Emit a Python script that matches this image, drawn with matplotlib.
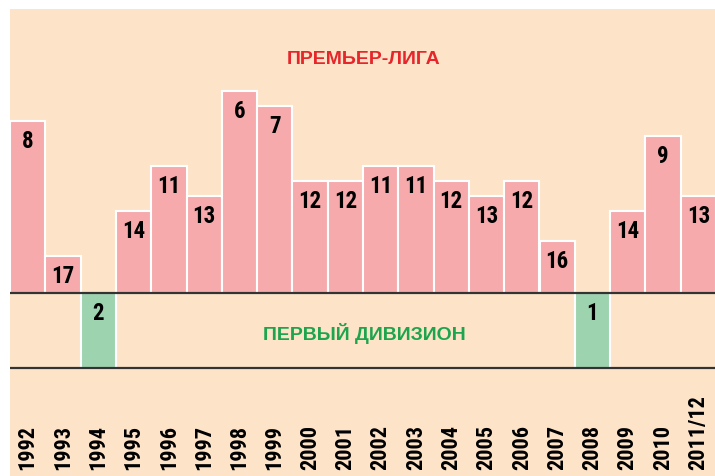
import matplotlib
matplotlib.use("Agg")
import matplotlib.pyplot as plt
from matplotlib import font_manager as fm

# ---- data ----
seasons = ["1992", "1993", "1994", "1995", "1996", "1997", "1998", "1999", "2000", "2001",
           "2002", "2003", "2004", "2005", "2006", "2007", "2008", "2009", "2010", "2011/12"]
positions = [8, 17, 2, 14, 11, 13, 6, 7, 12, 12, 11, 11, 12, 13, 12, 16, 1, 14, 9, 13]
division = ["PL", "PL", "D1", "PL", "PL", "PL", "PL", "PL", "PL", "PL",
            "PL", "PL", "PL", "PL", "PL", "PL", "D1", "PL", "PL", "PL"]
title_pl = "ПРЕМЬЕР-ЛИГА"
title_d1 = "ПЕРВЫЙ ДИВИЗИОН"

# scale: premier league bar height = TOP_REF - position ; first division bars fixed depth
TOP_REF = 19.5
D1_DEPTH = 5.0

# ---- fonts ----
names = {f.name for f in fm.fontManager.ttflist}
cond = None
for cand in ["Liberation Sans Narrow", "DejaVu Sans Condensed", "Roboto Condensed", "Open Sans Condensed"]:
    if cand in names:
        cond = cand
        break
if cond is None:
    fam = ["DejaVu Sans"]
    stretch = "condensed"
else:
    fam = [cond, "DejaVu Sans"]
    stretch = "normal"
title_fam = ["Liberation Sans", "DejaVu Sans"]

BG = "#fde4c9"
PINK = "#f6aaac"
GREEN = "#9dd3ae"
RED = "#e6262b"
DGREEN = "#1ca54c"

W, H = 715, 477
fig = plt.figure(figsize=(W / 100, H / 100), dpi=100)
fig.patch.set_facecolor("white")
ax = fig.add_axes([10 / W, 0, (W - 10) / W, (H - 10) / H])
ax.set_facecolor(BG)
for s in ax.spines.values():
    s.set_visible(False)
ax.set_xticks([])
ax.set_yticks([])

n = len(seasons)
x = list(range(n))
heights = [(TOP_REF - p) if d == "PL" else -D1_DEPTH for p, d in zip(positions, division)]
colors = [PINK if d == "PL" else GREEN for d in division]
ax.bar(x, heights, width=1.0, color=colors, edgecolor="white", linewidth=1.5, zorder=2)

# y range: top at 10px, baseline at 294px, bottom at 477px (15 px per unit)
ax.set_ylim(-(H - 294) / 15, (294 - 10) / 15)
ax.set_xlim(-0.5, -0.5 + (W - 10) / ((716 - 10) / n))

ax.axhline(0, color="#333333", linewidth=1.6, zorder=3)
ax.axhline(-D1_DEPTH, color="#333333", linewidth=1.6, zorder=3)

for xi, h, p in zip(x, heights, positions):
    ytop = h if h > 0 else 0
    ax.annotate(str(p), (xi, ytop), xytext=(0, -6), textcoords="offset points",
                ha="center", va="top", fontsize=16.5, fontweight="bold",
                family=fam, fontstretch=stretch, color="black", zorder=4)

for xi, s in zip(x, seasons):
    ax.annotate(s, (xi, 0), xycoords=("data", "figure fraction"), xytext=(0, 5),
                textcoords="offset points", rotation=90, ha="center", va="bottom",
                fontsize=16, fontweight="bold", family=fam, fontstretch=stretch,
                color="black", zorder=4)

fig.text(364 / W, 1 - 60 / H, title_pl, ha="center", va="center", fontsize=14,
         fontweight="bold", family=title_fam, color=RED)
fig.text(364 / W, 1 - 334 / H, title_d1, ha="center", va="center", fontsize=14,
         fontweight="bold", family=title_fam, color=DGREEN)

fig.savefig("out.png", dpi=100, facecolor="white")
